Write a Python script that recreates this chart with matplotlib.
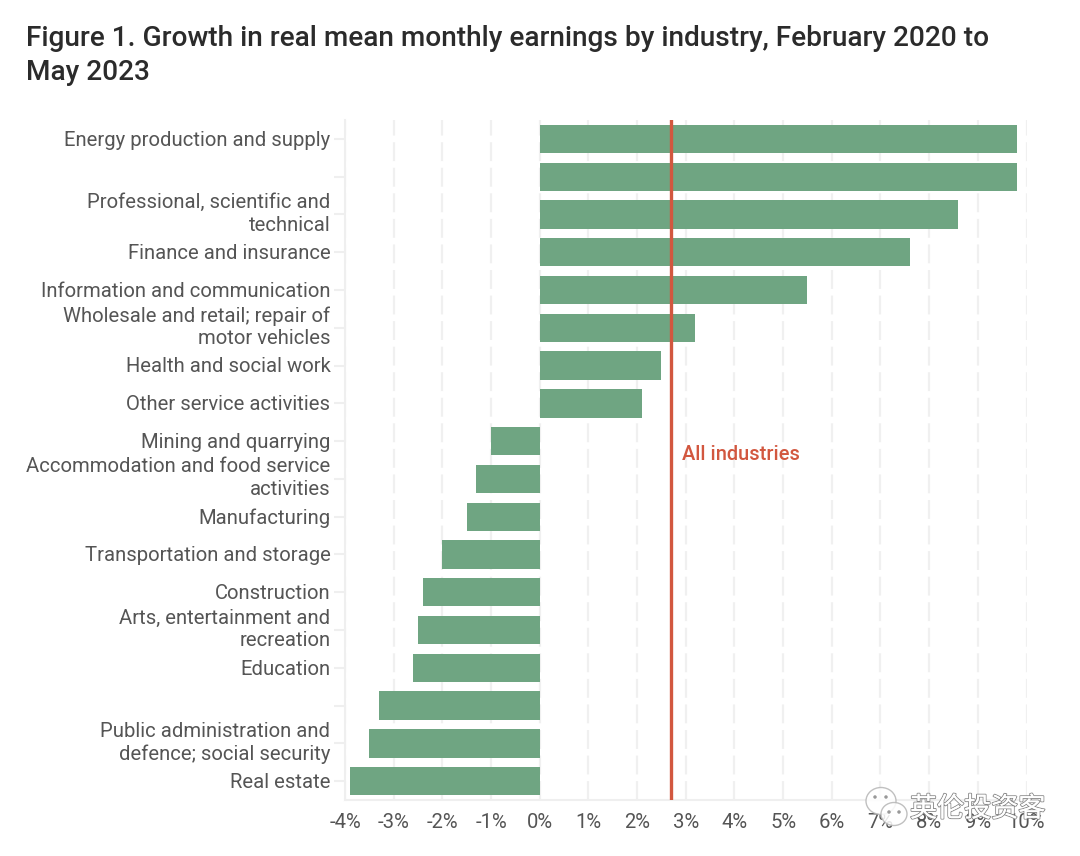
import matplotlib
matplotlib.use("Agg")
import matplotlib.pyplot as plt
import matplotlib.patheffects as pe
from matplotlib.patches import Ellipse
from matplotlib.transforms import ScaledTranslation

plt.rcParams['font.family'] = ['Roboto', 'Noto Sans CJK SC', 'DejaVu Sans']

industries = ["Energy production and supply", "", "Professional, scientific and\ntechnical",
              "Finance and insurance", "Information and communication",
              "Wholesale and retail; repair of\nmotor vehicles", "Health and social work",
              "Other service activities", "Mining and quarrying",
              "Accommodation and food service\nactivities", "Manufacturing",
              "Transportation and storage", "Construction",
              "Arts, entertainment and\nrecreation", "Education", "",
              "Public administration and\ndefence; social security", "Real estate"]
growth = [9.8, 9.8, 8.6, 7.6, 5.5, 3.2, 2.5, 2.1, -1.0, -1.3, -1.5, -2.0, -2.4, -2.5, -2.6, -3.3, -3.5, -3.9]
all_industries = 2.7
x_ticks = [-4, -3, -2, -1, 0, 1, 2, 3, 4, 5, 6, 7, 8, 9, 10]

W, H = 1080, 856
fig = plt.figure(figsize=(W / 100, H / 100), dpi=100)
ax = fig.add_axes([345 / W, 1 - 800 / H, (1026.5 - 345) / W, 680 / H])

y = list(range(len(growth)))
ax.grid(axis='x', color='#f0f0f0', lw=1.6, linestyle=(0, (8.5, 3)), zorder=0)
ax.barh(y, growth, height=0.75, color='#6fa582', zorder=2)
ax.axvline(all_industries, color='#d2573f', lw=2.4, zorder=3)
ax.text(all_industries + 0.22, 8.35, "All industries", color='#d2573f', fontsize=14.4,
        fontweight='medium', va='center', ha='left')

ax.set_xlim(-4, 10)
ax.set_ylim(17.5, -0.5)
ax.set_xticks(x_ticks)
ax.set_xticklabels([f"{v}%" for v in x_ticks])
ax.set_yticks(y)
ax.set_yticklabels(industries, linespacing=1.26, ha='right', multialignment='right')
ax.tick_params(axis='y', length=8, width=1.5, color='#efefef', labelcolor='#555555', labelsize=14.6, pad=2.5)
ax.tick_params(axis='x', length=0, labelcolor='#555555', labelsize=14.6, pad=9.5)
for side in ['top', 'right']:
    ax.spines[side].set_visible(False)
for side in ['left', 'bottom']:
    ax.spines[side].set_color('#efefef')
    ax.spines[side].set_linewidth(1.5)

# two line labels sit a bit high in the original
for lab in ax.get_yticklabels():
    shift = 4.5 if "\n" in lab.get_text() else 0.7
    lab.set_transform(lab.get_transform() + ScaledTranslation(0, shift / 72 * 0.72, fig.dpi_scale_trans))

fig.text(26 / W, 1 - 39 / H, "Figure 1. Growth in real mean monthly earnings by industry, February 2020 to",
         fontsize=20.2, fontweight='medium', color='#2b2b2b', va='center')
fig.text(26 / W, 1 - 73 / H, "May 2023", fontsize=20.2, fontweight='medium', color='#2b2b2b', va='center')

# watermark
for cx, cy, w, h in [(881, 801, 30, 27), (894, 814, 26, 23)]:
    fig.add_artist(Ellipse((cx / W, 1 - cy / H), w / W, h / H, transform=fig.transFigure,
                           facecolor='white', edgecolor='#b5b5b5', lw=1, alpha=0.85))
for cx, cy in [(875, 797), (886, 797), (889, 812), (899, 812)]:
    fig.add_artist(Ellipse((cx / W, 1 - cy / H), 3.5 / W, 3.5 / H, transform=fig.transFigure,
                           facecolor='#999999', edgecolor='none'))
wm = fig.text(910 / W, 1 - 809 / H, "英伦投资客", fontsize=19.5, color='white', va='center')
wm.set_path_effects([pe.withStroke(linewidth=1.4, foreground='#8a8a8a'), pe.Normal()])

fig.savefig("out.png", dpi=100)
